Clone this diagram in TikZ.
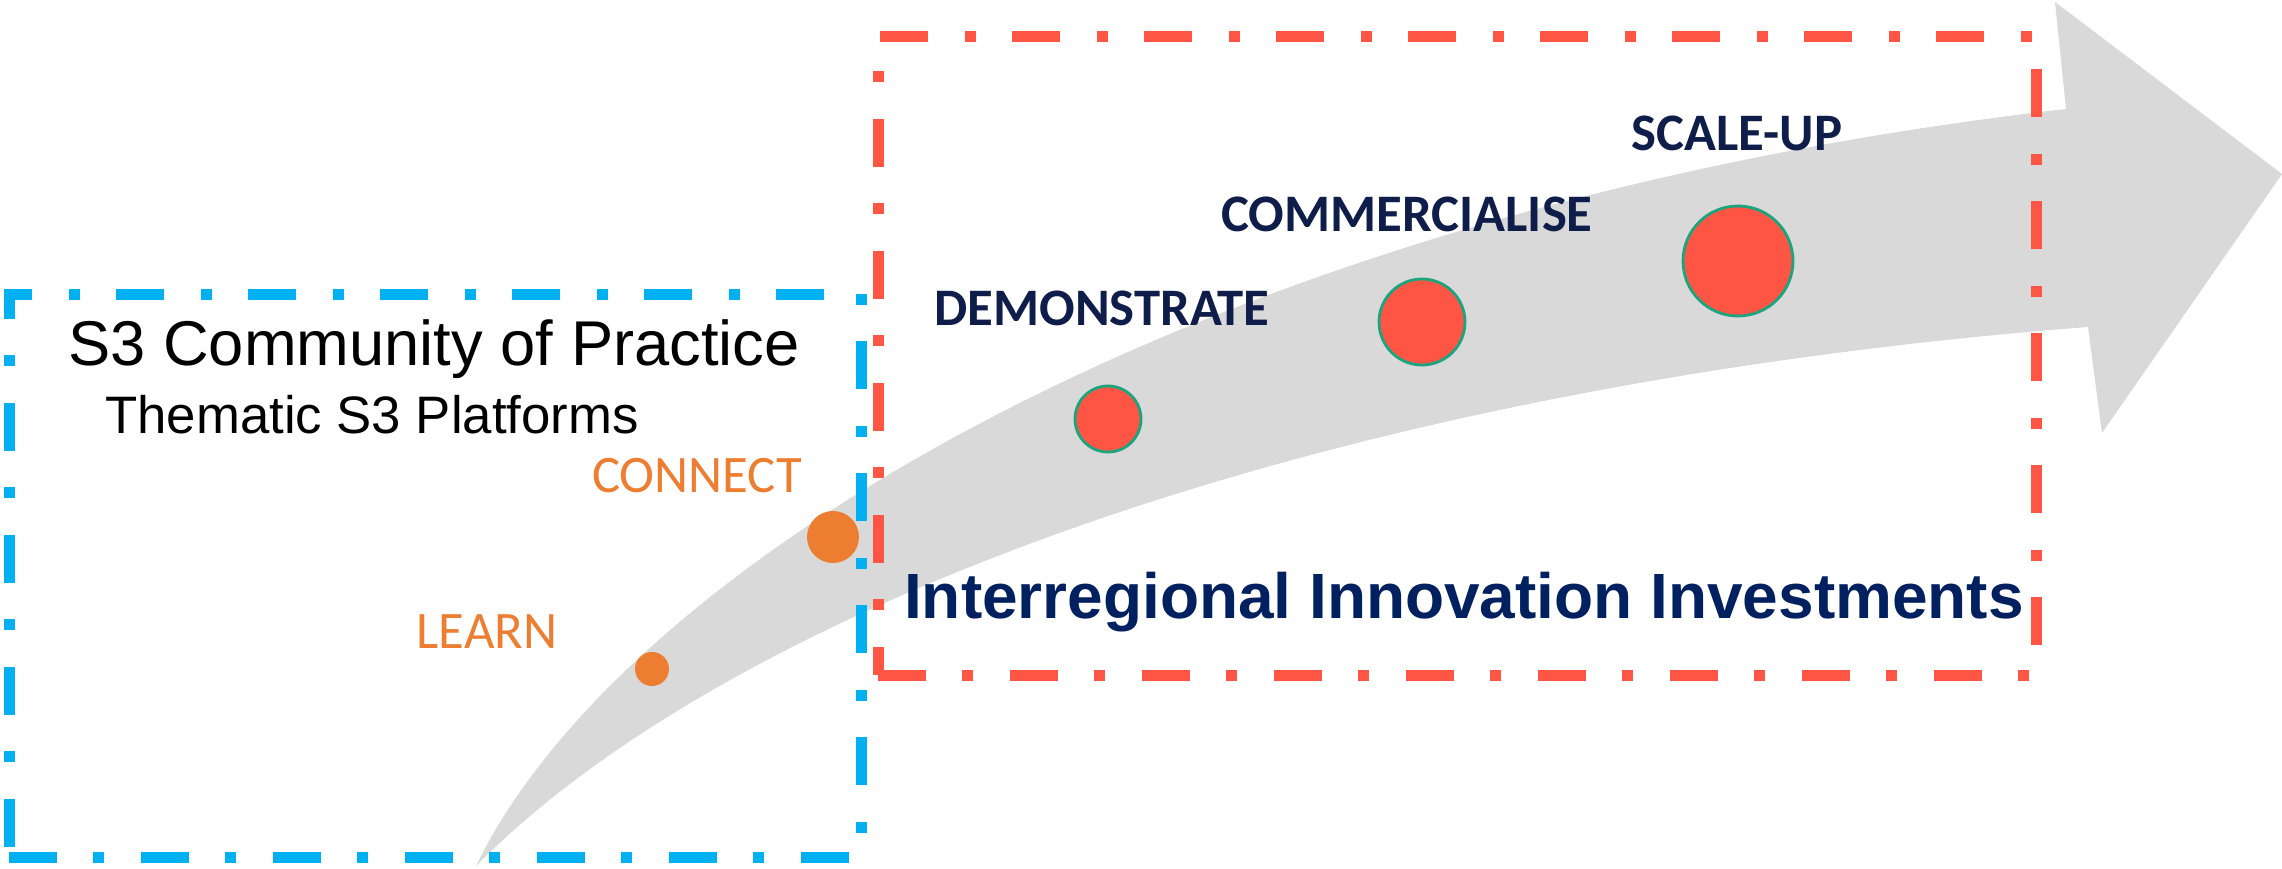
\documentclass[tikz,border=0pt]{standalone}
\usepackage{fontspec}
\setmainfont{Liberation Sans}
\newfontfamily\calibri{Carlito}
\usepackage{xcolor}
\usepackage{tikz}
\usetikzlibrary{positioning}
\definecolor{frameblue}{HTML}{00B0F0}
\definecolor{framered}{HTML}{FF5544}
\definecolor{flowgray}{HTML}{D9D9D9}
\definecolor{steporange}{HTML}{ED7D31}
\definecolor{phasenavy}{HTML}{0E1D4A}
\definecolor{titlenavy}{HTML}{002060}
\definecolor{rimgreen}{HTML}{1AA57E}
\tikzstyle{dashframe} = [rectangle, inner sep=0pt, line width=0.11cm, dash pattern=on 0.48cm off 0.36cm on 0.11cm off 0.37cm]
\tikzstyle{stepdot} = [circle, inner sep=0pt, fill=steporange]
\tikzstyle{phasedot} = [circle, inner sep=0pt, fill=framered, draw=rimgreen, line width=0.8pt]
\tikzstyle{steplabel} = [anchor=base, text=steporange, font=\calibri\fontsize{15}{18}\selectfont]
\tikzstyle{phaselabel} = [anchor=base, text=phasenavy, font=\calibri\bfseries\fontsize{15}{18}\selectfont]

\begin{document}
\begin{tikzpicture}
    \useasboundingbox (0,0) rectangle (22.82,8.68);

    % Arrow
    \coordinate (tail) at (4.76,0.02);
    \fill[flowgray] (tail) .. controls (6.2,3.0) and (12.0,6.6) .. (20.66,7.59)
        -- (20.55,8.66) -- (22.82,6.94) -- (21.02,4.35) -- (20.88,5.41)
        .. controls (13.0,4.8) and (7.2,2.5) .. (tail) -- cycle;

    % Dots
    \node[stepdot, minimum size=0.34cm] (learndot) at (6.52,1.99) {};
    \node[stepdot, minimum size=0.52cm] (connectdot) at (8.33,3.31) {};
    \node[phasedot, minimum size=0.66cm] (demodot) at (11.08,4.49) {};
    \node[phasedot, minimum size=0.86cm] (commdot) at (14.22,5.46) {};
    \node[phasedot, minimum size=1.10cm] (scaledot) at (17.38,6.07) {};

    % Frames
    \node[dashframe, draw=frameblue, minimum width=8.52cm, minimum height=5.63cm] (copframe) at (4.35,2.925) {};
    \node[dashframe, draw=framered, minimum width=11.58cm, minimum height=6.38cm] (investframe) at (14.57,5.12) {};

    % Labels
    \node[anchor=base, font=\fontsize{18}{22}\selectfont] (coptitle) at (4.34,5.03) {S3 Community of Practice};
    \node[anchor=base, font=\fontsize{15}{18}\selectfont] (platforms) at (3.72,4.35) {Thematic S3 Platforms};
    \node[steplabel] (learn) at (4.87,2.20) {LEARN};
    \node[steplabel] (connect) at (6.97,3.76) {CONNECT};
    \node[phaselabel] (demonstrate) at (11.02,5.43) {DEMONSTRATE};
    \node[phaselabel] (commercialise) at (14.07,6.36) {COMMERCIALISE};
    \node[phaselabel] (scaleup) at (17.37,7.18) {SCALE-UP};
    \node[anchor=base, text=titlenavy, font=\bfseries\fontsize{18.2}{22}\selectfont] (investtitle) at (14.64,2.50) {Interregional Innovation Investments};
\end{tikzpicture}
\end{document}
